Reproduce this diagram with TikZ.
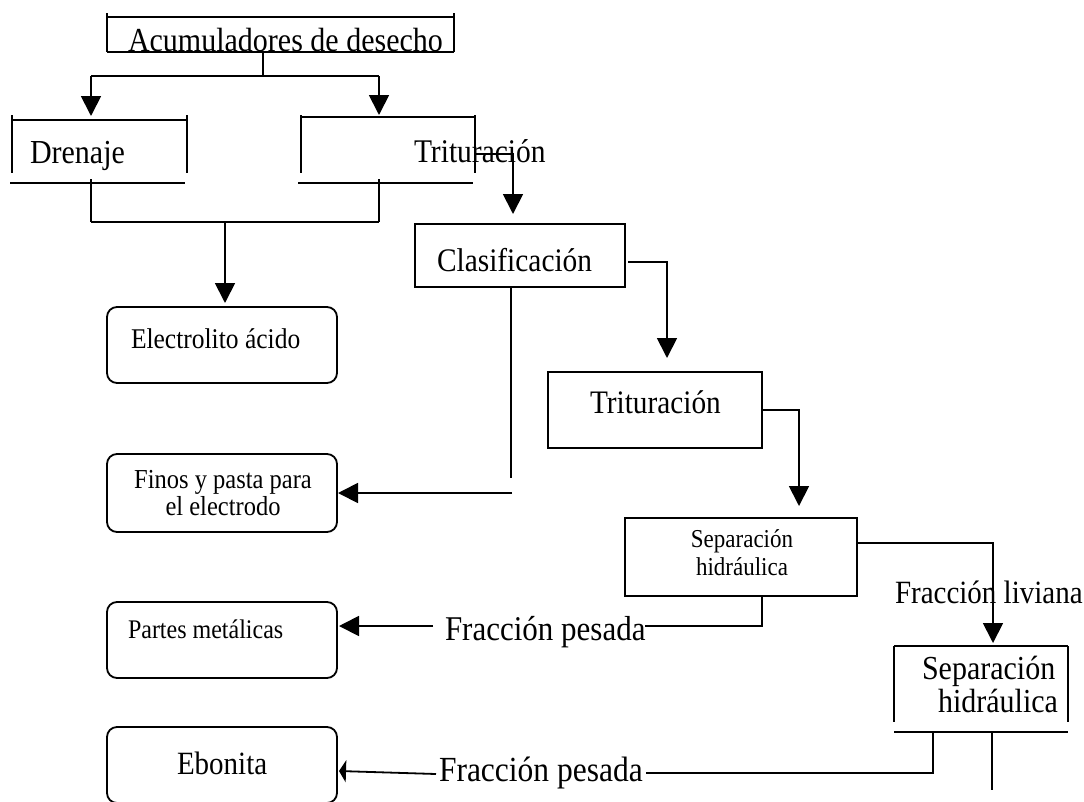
\documentclass[tikz,border=0pt]{standalone}
\usepackage{fontspec}
\usepackage{graphicx}
\setmainfont{Liberation Serif}
\usetikzlibrary{arrows.meta,calc}
\newcommand\fsz[1]{\fontsize{#1}{#1}\selectfont}
\newcommand\tall[1]{\scalebox{1}[1.12]{#1}}
\begin{document}
\begin{tikzpicture}[x=1pt,y=-1pt,line width=1.8pt,
  lbl/.style={inner sep=0pt,outer sep=0pt,anchor=base west},
  clbl/.style={inner sep=0pt,outer sep=0pt,anchor=base},
  arr/.style={-{Triangle[length=20pt,width=20pt]}},
  sbox/.style={draw,inner sep=0pt,outer sep=0pt},
  rbox/.style={draw,rounded corners=10pt,inner sep=0pt,outer sep=0pt,minimum width=230pt}]
\useasboundingbox (0,0) rectangle (1084,801);

% ---- top box (open) ----
\draw (107,17) -- (454,17);
\draw (107,13) -- (107,52);
\draw (454,13) -- (454,52);
\draw (107,52) -- (454,52);
\node[lbl,font=\fsz{30}] (acum) at (128,51) {\tall{Acumuladores de desecho}};
\coordinate (acumS) at (263,52);
\coordinate (split) at (263,76);
\draw (acumS) -- (split);
\draw (91,76) coordinate (splL) -- (379,76) coordinate (splR);

% ---- Drenaje (open) ----
\draw (12,120) -- (187,120);
\draw (12,115) -- (12,173);
\draw (187,115) -- (187,173);
\draw (10,183) -- (185,183);
\node[lbl,font=\fsz{30}] (dren) at (30,163) {\tall{Drenaje}};
\coordinate (drenT) at (91,116);

% ---- Trituracion 1 (open) ----
\draw (301,117) -- (475,117);
\draw (301,115) -- (301,173);
\draw (475,115) -- (475,173);
\draw (298,183) -- (473,183);
\node[lbl,font=\fsz{29.5}] (trit1) at (414,162) {\tall{Trituración}};
\coordinate (trit1T) at (379,115);
\coordinate (trit1E) at (475,154);

\draw[arr] (splL) -- (drenT);
\draw[arr] (splR) -- (trit1T);

% ---- join to electrolito ----
\draw (91,179) -- (91,222) coordinate (jL);
\draw (379,179) -- (379,222) coordinate (jR);
\draw (jL) -- (jR);
\coordinate (jM) at (225,222);

% ---- rounded result boxes ----
\node[rbox,minimum height=76pt] (electro) at (222,345) {};
\node[rbox,minimum height=78pt] (finos) at (222,493) {};
\node[rbox,minimum height=76pt] (partes) at (222,640) {};
\node[rbox,minimum height=76pt] (ebon) at (222,765) {};
\node[lbl,font=\fsz{25.5}] (electroT) at (131,348) {\tall{Electrolito ácido}};
\node[clbl,font=\fsz{24.5}] (finosT1) at (223,488) {\tall{Finos y pasta para}};
\node[clbl,font=\fsz{24.5}] (finosT2) at (223,515) {\tall{el electrodo}};
\node[lbl,font=\fsz{24}] (partesT) at (128,638) {\tall{Partes metálicas}};
\node[lbl,font=\fsz{29}] (ebonT) at (177,774) {\tall{Ebonita}};

\draw[arr] (jM) -- ($(electro.north)+(3,-4)$);

% ---- Clasificacion ----
\node[sbox,minimum width=210pt,minimum height=63pt] (clas) at (520,255.5) {};
\node[lbl,font=\fsz{29.4}] (clasT) at (437,271) {\tall{Clasificación}};
\draw[arr] (trit1E) -| ($(clas.north)+(-7,-10)$);

% ---- Trituracion 2 ----
\node[sbox,minimum width=214pt,minimum height=76pt] (trit2) at (655,410) {};
\node[lbl,font=\fsz{29.3}] (trit2T) at (590,413) {\tall{Trituración}};
\draw[arr] ($(clas.east)+(3,6.5)$) -| ($(trit2.north)+(12,-14)$);

% ---- Finos arrow ----
\draw ($(clas.south)+(-9,0)$) -- (511,478) coordinate (clasS);
\draw[arr] (512,493) -- ($(finos.east)+(1,0)$);

% ---- Separacion 1 ----
\node[sbox,minimum width=232pt,minimum height=78pt] (sep1) at (741,557) {};
\node[clbl,font=\fsz{23}] (sep1T1) at (742,547) {\tall{Separación}};
\node[clbl,font=\fsz{23}] (sep1T2) at (742,575) {\tall{hidráulica}};
\draw[arr] (trit2.east) -| ($(sep1.north)+(58,-12)$);

% ---- Fraccion pesada 1 ----
\draw ($(sep1.south)+(21,0)$) -- (762,626) -- (645,626) coordinate (fp1R);
\node[lbl,font=\fsz{31}] (fp1) at (445,640) {\tall{Fracción pesada}};
\draw[arr] (433,626) -- ($(partes.east)+(2,-14)$);

% ---- Separacion 2 (open) ----
\draw (894,646) -- (1068,646);
\draw (894,646) -- (894,722);
\draw (1068,646) -- (1068,722);
\draw[line width=2.6pt] (894,732) -- (1068,732);
\coordinate (sep2T) at (993,643);
\node[lbl,font=\fsz{30}] (sep2T1) at (922,679) {\tall{Separación}};
\node[lbl,font=\fsz{30}] (sep2T2) at (938,712) {\tall{hidráulica}};
\node[lbl,font=\fsz{29}] (fliv) at (895,603) {\tall{Fracción liviana}};
\draw[arr] ($(sep1.east)+(0,-14)$) -| (sep2T);

% ---- Fraccion pesada 2 ----
\draw (933,732) -- (933,773) -- (646,773);
\draw (992,732) -- (992,790);
\node[lbl,font=\fsz{31.5}] (fp2) at (439,781) {\tall{Fracción pesada}};
\draw[-{Triangle[length=7pt,width=22pt]}] (436,774) -- ($(ebon.east)+(2,6)$);
\end{tikzpicture}
\end{document}
